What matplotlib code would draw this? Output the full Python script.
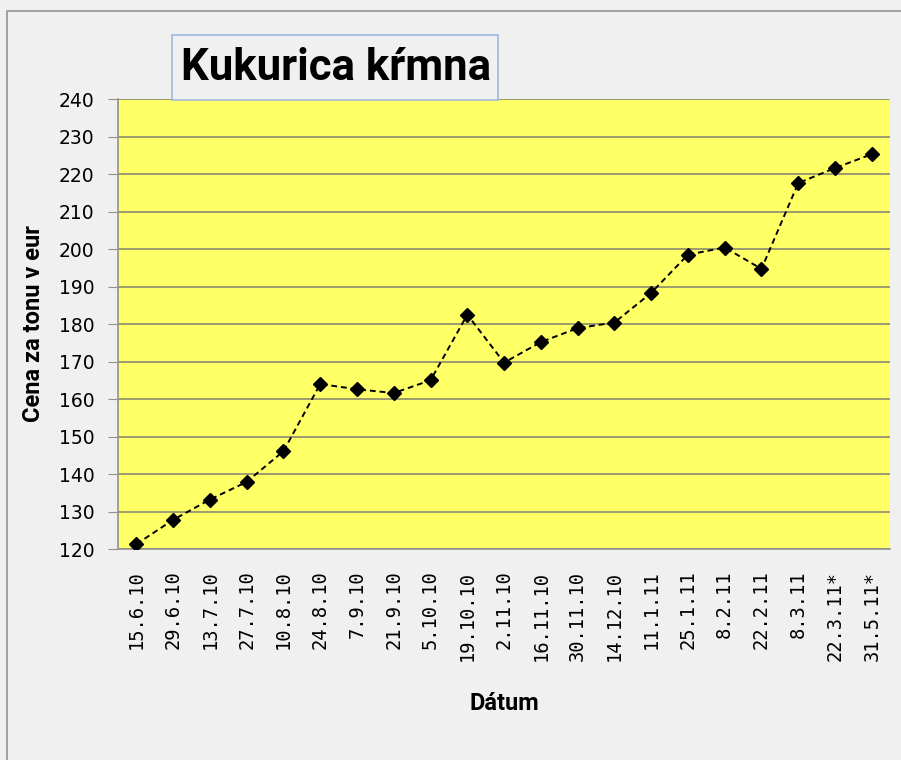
import matplotlib.pyplot as plt
from matplotlib.patches import Rectangle
from matplotlib import font_manager

dates = ["15.6.10", "29.6.10", "13.7.10", "27.7.10", "10.8.10", "24.8.10",
         "7.9.10", "21.9.10", "5.10.10", "19.10.10", "2.11.10", "16.11.10",
         "30.11.10", "14.12.10", "11.1.11", "25.1.11", "8.2.11", "22.2.11",
         "8.3.11", "22.3.11*", "31.5.11*"]
prices = [121.3, 127.8, 133.2, 137.9, 146.1, 164.0, 162.6, 161.6, 165.0,
          182.5, 169.7, 175.2, 178.9, 180.4, 188.3, 198.5, 200.4, 194.7,
          217.6, 221.6, 225.3]
y_ticks = list(range(120, 241, 10))

names = {f.name for f in font_manager.fontManager.ttflist}
label_font = "Roboto" if "Roboto" in names else "DejaVu Sans"

bg = "#f0f0f0"
fig = plt.figure(figsize=(9.01, 7.6), dpi=100, facecolor=bg)

# outer chart border: only top and left edges are inside the screenshot
fig.add_artist(Rectangle((7 / 901, -0.05), 1.05, 1 - 11 / 760 + 0.05, transform=fig.transFigure,
                         fill=False, edgecolor="#a0a0a0", lw=1.4))

ax = fig.add_axes([0.131, 0.2776, 0.857, 0.5921])
ax.set_facecolor("#ffff66")
x = range(len(dates))
ax.plot(x, prices, ls=(0, (3, 2)), color="black", lw=1.4, marker="D", ms=7.5,
        markerfacecolor="black", markeredgecolor="black", zorder=3)

ax.set_xlim(-0.5, len(dates) - 0.5)
ax.set_ylim(120, 240)
ax.set_yticks(y_ticks)
ax.yaxis.grid(True, color="#8a8a70", lw=1.2)
ax.set_axisbelow(True)
ax.set_xticks(list(x))
ax.set_xticklabels(dates, rotation=90, fontsize=13.5, family="DejaVu Sans Mono")
ax.tick_params(axis="x", length=0, pad=15.5)
ax.tick_params(axis="y", length=7, color="#909090", labelsize=13.5, pad=10)
for s in ["top", "right"]:
    ax.spines[s].set_visible(False)
for s in ["left", "bottom"]:
    ax.spines[s].set_color("#909090")
    ax.spines[s].set_linewidth(1.2)

ax.set_xlabel("Dátum", fontsize=17, fontweight="bold", family=label_font, labelpad=23)
ax.set_ylabel("Cena za tonu v eur", fontsize=17, fontweight="bold", family=label_font, labelpad=10)

# title box
fig.add_artist(Rectangle((172 / 901, 1 - 100 / 760), 326 / 901, 65 / 760,
                         transform=fig.transFigure, facecolor=bg,
                         edgecolor="#9dbbe0", lw=1.2, zorder=5))
fig.text(336 / 901, 1 - 68 / 760, "Kukurica kŕmna", fontsize=31.5, fontweight="bold",
         family=label_font, ha="center", va="center", zorder=6)

fig.savefig("out.png", dpi=100, facecolor=bg)
